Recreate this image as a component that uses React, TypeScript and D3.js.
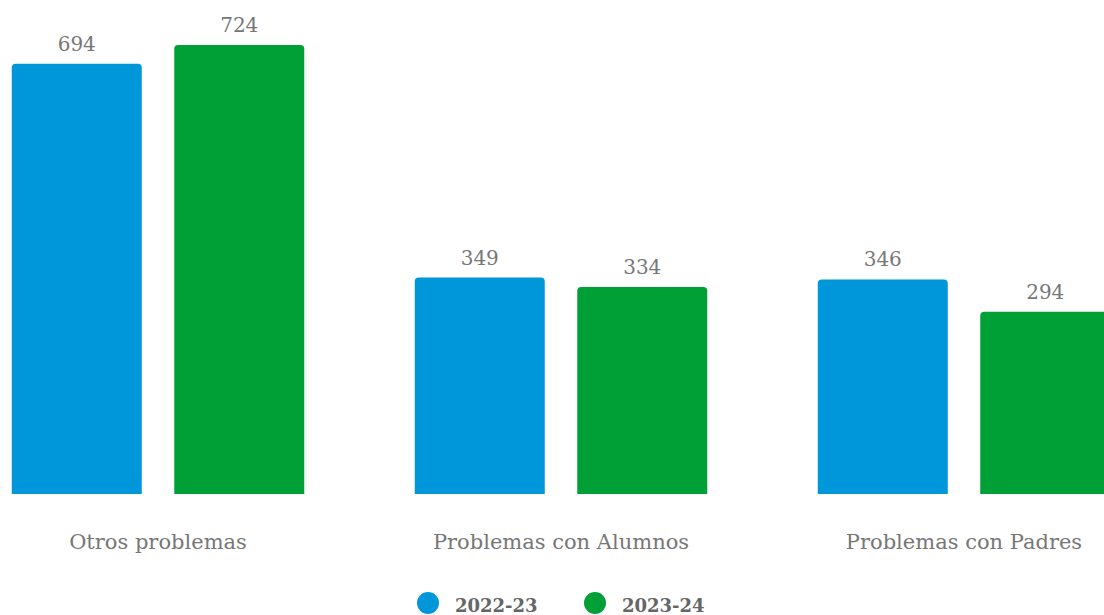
import React from "react";
import * as d3 from "d3";

const categories = ["Otros problemas", "Problemas con Alumnos", "Problemas con Padres"];
const seriesNames = ["2022-23", "2023-24"];
const values2022 = [694, 349, 346];
const values2023 = [724, 334, 294];
const colors = ["#0096DA", "#00A037"];

const W = 1104;
const H = 615;

function topRoundedRect(x: number, y: number, w: number, h: number, r: number) {
  const rr = Math.min(r, w / 2, h);
  return `M${x},${y + h}V${y + rr}Q${x},${y} ${x + rr},${y}H${x + w - rr}Q${x + w},${y} ${x + w},${y + rr}V${y + h}Z`;
}

export default function App() {
  const x0 = d3.scaleBand<string>().domain(categories).range([-43.5, -43.5 + 403 * 3]).padding(0);
  const x1 = d3
    .scaleBand<string>()
    .domain(seriesNames)
    .range([0, x0.bandwidth()])
    .paddingInner(0.2)
    .paddingOuter(0.34);
  const y = d3.scaleLinear().domain([0, 800]).range([494, -2]);
  const data = [values2022, values2023];
  const font = "'DejaVu Serif', serif";

  return (
    <svg width={W} height={H} style={{ position: "absolute", left: 0, top: 0, background: "#fff" }}>
      {categories.map((c, i) => (
        <g key={c} transform={`translate(${x0(c)},0)`}>
          {seriesNames.map((s, j) => {
            const v = data[j][i];
            const bx = x1(s)!;
            const by = y(v);
            return (
              <g key={s}>
                <path d={topRoundedRect(bx, by, x1.bandwidth(), y(0) - by, 4)} fill={colors[j]} />
                <text
                  x={bx + x1.bandwidth() / 2}
                  y={by - 13}
                  textAnchor="middle"
                  fontFamily={font}
                  fontSize={20}
                  fill="#777"
                >
                  {v}
                </text>
              </g>
            );
          })}
          <text
            x={x0.bandwidth() / 2}
            y={549}
            textAnchor="middle"
            fontFamily={font}
            fontSize={21}
            fill="#777"
          >
            {c}
          </text>
        </g>
      ))}
      <g>
        {seriesNames.map((s, j) => {
          const lx = [428, 595][j];
          return (
            <g key={s}>
              <circle cx={lx} cy={603} r={11} fill={colors[j]} />
              <text x={lx + 27} y={612} fontFamily={font} fontWeight="bold" fontSize={18} fill="#666">
                {s}
              </text>
            </g>
          );
        })}
      </g>
    </svg>
  );
}
